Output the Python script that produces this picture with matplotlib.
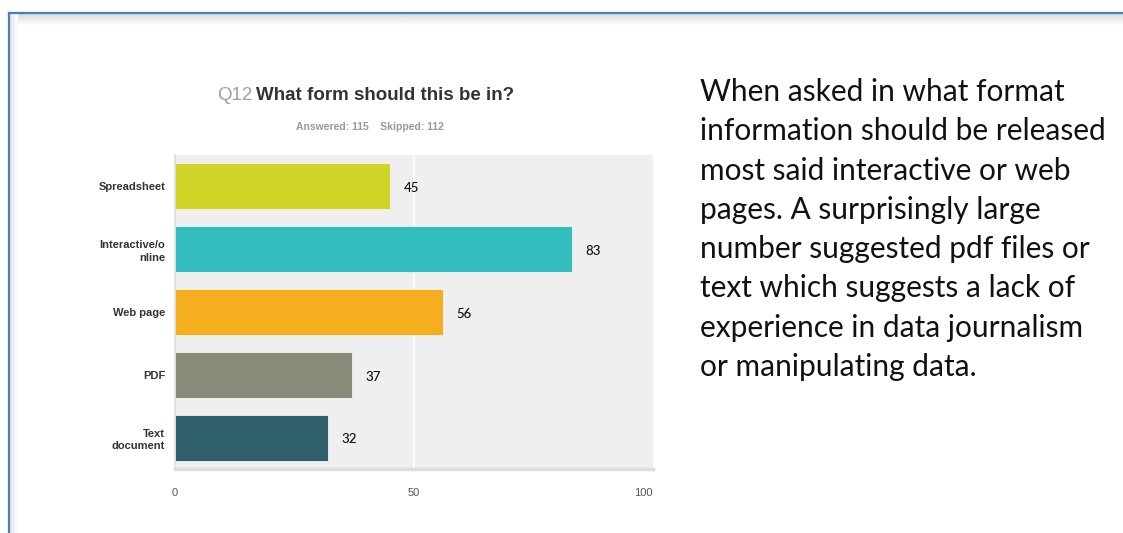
import numpy as np
import matplotlib
matplotlib.use("Agg")
from matplotlib import pyplot as plt
from matplotlib.lines import Line2D

categories = ["Spreadsheet", "Interactive/o\nnline", "Web page", "PDF", "Text\ndocument"]
counts = [45, 83, 56, 37, 32]
bar_colors = ["#cfd427", "#33bdbf", "#f5ae1e", "#8a8a78", "#2e5f6b"]
x_ticks = [0, 50, 100]

answered = 115
skipped = 112

summary = ("When asked in what format\n"
           "information should be released\n"
           "most said interactive or web\n"
           "pages. A surprisingly large\n"
           "number suggested pdf files or\n"
           "text which suggests a lack of\n"
           "experience in data journalism\n"
           "or manipulating data.")

narrow = ["Liberation Sans Narrow", "Liberation Sans", "DejaVu Sans"]

W, H = 1123, 533
fig = plt.figure(figsize=(W / 100, H / 100), dpi=100)
fig.patch.set_facecolor("white")

# Frame: soft shadow under the top edge, then the blue border
shade = fig.add_axes([9 / W, (H - 26) / H, 1 - 9 / W, 12 / H])
grad = np.linspace(0.86, 1.0, 20).reshape(-1, 1)
shade.imshow(np.repeat(grad, 2, axis=1), cmap="gray", vmin=0, vmax=1,
             aspect="auto", extent=[0, 1, 0, 1], origin="upper")
shade.set_axis_off()
shade_l = fig.add_axes([10 / W, 0, 8 / W, (H - 14) / H])
grad_l = np.linspace(0.9, 1.0, 20).reshape(1, -1)
shade_l.imshow(np.repeat(grad_l, 2, axis=0), cmap="gray", vmin=0, vmax=1,
               aspect="auto", extent=[0, 1, 0, 1])
shade_l.set_axis_off()
fig.add_artist(Line2D([9 / W, 1], [1 - 13 / H, 1 - 13 / H], color="#4a7ebb", lw=1.6))
fig.add_artist(Line2D([9 / W, 9 / W], [0, 1 - 13 / H], color="#4a7ebb", lw=1.6))

# Bar chart
ax = fig.add_axes([175 / W, (H - 469) / H, (653 - 175) / W, (469 - 155) / H])
ax.set_facecolor("#efefef")
y = np.arange(len(categories))
ax.axvline(50, color="white", lw=1.2, zorder=1)
ax.barh(y, counts, height=0.73, color=bar_colors, edgecolor="#f4f4f4",
        linewidth=0.6, zorder=2)
for yi, v in zip(y, counts):
    ax.text(v + 2.9, yi + 0.03, str(v), va="center", ha="left", fontsize=9.5,
            family=["Lato", "DejaVu Sans"], fontweight="medium", color="#111111")
ax.set_xlim(0, 100)
ax.set_ylim(len(categories) - 0.5, -0.5)
ax.set_yticks(y)
ax.set_yticklabels(categories, fontsize=8, fontweight="bold", family=narrow,
                   color="#333333", linespacing=1.3)
ax.set_xticks(x_ticks)
ax.set_xticklabels([str(t) for t in x_ticks], fontsize=8, family=narrow, color="#555555")
ax.get_xticklabels()[-1].set_horizontalalignment("right")
ax.tick_params(axis="both", length=0)
ax.tick_params(axis="x", pad=14)
ax.tick_params(axis="y", pad=7)
for side in ["top", "right"]:
    ax.spines[side].set_visible(False)
ax.spines["left"].set_color("#dddddd")
ax.spines["left"].set_linewidth(1.2)
ax.spines["bottom"].set_color("#dddddd")
ax.spines["bottom"].set_linewidth(2.5)

# Title and response counts
t1 = fig.text(217 / W, 1 - 95 / H, "Q12", fontsize=13.5, family=narrow,
              color="#a0a0a0", va="center", ha="left")
fig.canvas.draw()
bb = t1.get_window_extent()
fig.text((bb.x1 + 4) / W, 1 - 95 / H, "What form should this be in?", fontsize=13.5,
         family=narrow, fontweight="bold", color="#333333", va="center", ha="left")
fig.text(370 / W, 1 - 127 / H, f"Answered: {answered}    Skipped: {skipped}",
         fontsize=7.5, family=narrow, fontweight="bold", color="#999999",
         va="center", ha="center")

# Commentary
fig.text(700 / W, 1 - 78 / H, summary, fontsize=21.5, family=["Lato", "DejaVu Sans"],
         color="#111111", va="top", ha="left", linespacing=1.49)

fig.savefig("out.png", dpi=100, facecolor="white")
